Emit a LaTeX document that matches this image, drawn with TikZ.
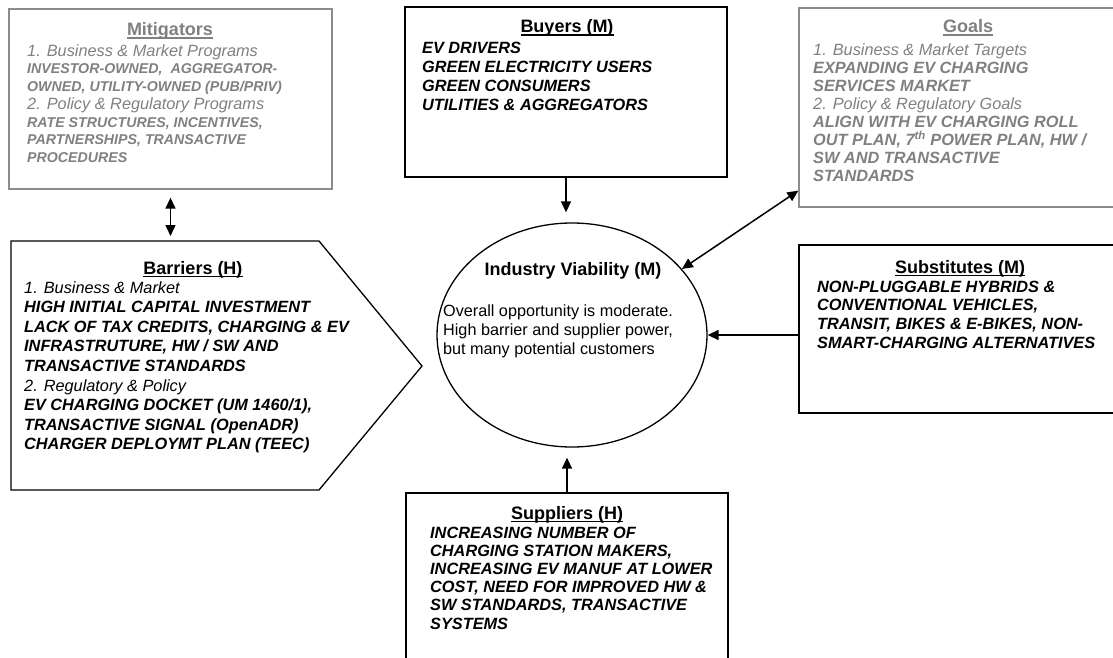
\documentclass[tikz,border=0pt]{standalone}
\usepackage{fontspec}
\setmainfont{Liberation Sans}
\usetikzlibrary{arrows.meta,shapes.geometric,calc}
\definecolor{softgray}{RGB}{128,128,128}
\definecolor{framegray}{RGB}{140,140,140}
% heading underline at a fixed depth below the baseline
\newcommand\ulhead[1]{\setbox0=\hbox{#1}\rlap{\rule[-2.6pt]{\wd0}{1.1pt}}\box0}
\begin{document}
\begin{tikzpicture}[x=1pt,y=-1pt,
  panel/.style={draw, line width=1.3pt, rectangle, inner sep=0pt},
  greypanel/.style={panel, draw=framegray},
  head/.style={font=\fontsize{18}{20}\selectfont\bfseries, anchor=base, inner sep=0pt},
  % multi-line blocks are placed by the baseline of their last line
  body/.style={align=left, anchor=base west, inner sep=0pt,
    font=\fontsize{16.3}{#1}\selectfont\bfseries\itshape},
  body/.default=18.5,
  link/.style={line width=1.5pt, -{Triangle[length=11pt,width=10pt]}},
  twolink/.style={line width=1.5pt, {Triangle[length=11pt,width=10pt]}-{Triangle[length=11pt,width=10pt]}},
]
\useasboundingbox (0,0) rectangle (1113,658);
\clip (0,0) rectangle (1113,658);

% frames
\node[greypanel, minimum width=323pt, minimum height=180pt] (mit) at (170.5,99) {};
\node[panel, minimum width=322pt, minimum height=170pt] (buy) at (566,92) {};
\node[greypanel, minimum width=330pt, minimum height=199pt] (goal) at (964,107.5) {};
\node[panel, minimum width=330pt, minimum height=168pt] (subs) at (964,329) {};
\node[panel, minimum width=322pt, minimum height=187pt] (supp) at (567,586.5) {};
\node[draw, line width=1.3pt, ellipse, minimum width=270pt, minimum height=224pt, inner sep=0pt] (iv) at (572,335) {};

% barriers: arrow-shaped pentagon
\draw[line width=1.3pt] (11,241) -- (319,241) -- (422,366) -- (319,490) -- (11,490) -- cycle;
\coordinate (bartop) at (170.5,241);

% Mitigators
\node[head, softgray] (mit-h) at (170,36) {\ulhead{Mitigators}};
\node[body=17.8, softgray, font=\fontsize{14.2}{17.8}\selectfont\bfseries\itshape] (mit-t) at (27,162.8)
{{\mdseries\fontsize{16.3}{17.8}\selectfont 1. Business \& Market Programs}\\
INVESTOR-OWNED,\ \ AGGREGATOR-\\
OWNED, UTILITY-OWNED (PUB/PRIV)\\
{\mdseries\fontsize{16.3}{17.8}\selectfont 2. Policy \& Regulatory Programs}\\
RATE STRUCTURES, INCENTIVES,\\
PARTNERSHIPS, TRANSACTIVE\\
PROCEDURES};

% Buyers
\node[head] (buy-h) at (567,33) {\ulhead{Buyers (M)}};
\node[body=18.7] (buy-t) at (422,110.1) {EV DRIVERS\\
GREEN ELECTRICITY USERS\\
GREEN CONSUMERS\\
UTILITIES \& AGGREGATORS};

% Goals
\node[head, softgray] (goal-h) at (968,33) {\ulhead{Goals}};
\node[body=18.1, softgray] (goal-t) at (813,181.7) {{\mdseries 1. Business \& Market Targets}\\
EXPANDING EV CHARGING\\
SERVICES MARKET\\
{\mdseries 2. Policy \& Regulatory Goals}\\
ALIGN WITH EV CHARGING ROLL\\
OUT PLAN, 7\textsuperscript{th} POWER PLAN, HW /\\
SW AND TRANSACTIVE\\
STANDARDS};

% Barriers
\node[head] (bar-h) at (193,274) {\ulhead{Barriers (H)}};
\node[body=19.6] (bar-t) at (24,449.8) {{\mdseries 1. Business \& Market}\\
HIGH INITIAL CAPITAL INVESTMENT\\
LACK OF TAX CREDITS, CHARGING \& EV\\
INFRASTRUTURE, HW / SW AND\\
TRANSACTIVE STANDARDS\\
{\mdseries 2. Regulatory \& Policy}\\
EV CHARGING DOCKET (UM 1460/1),\\
TRANSACTIVE SIGNAL (OpenADR)\\
CHARGER DEPLOYMT PLAN (TEEC)};

% Substitutes
\node[head] (subs-h) at (960,273) {\ulhead{Substitutes (M)}};
\node[body=18.7] (subs-t) at (817,348.1) {NON-PLUGGABLE HYBRIDS \&\\
CONVENTIONAL VEHICLES,\\
TRANSIT, BIKES \& E-BIKES, NON-\\
SMART-CHARGING ALTERNATIVES};

% Suppliers
\node[head] (supp-h) at (567,519) {\ulhead{Suppliers (H)}};
\node[body=18.2] (supp-t) at (430,629) {INCREASING NUMBER OF\\
CHARGING STATION MAKERS,\\
INCREASING EV MANUF AT LOWER\\
COST, NEED FOR IMPROVED HW \&\\
SW STANDARDS, TRANSACTIVE\\
SYSTEMS};

% Industry viability
\node[head] (iv-h) at (573,275) {Industry Viability (M)};
\node[align=left, anchor=base west, inner sep=0pt, font=\fontsize{16.2}{19}\selectfont] (iv-t) at (443,354) {Overall opportunity is moderate.\\
High barrier and supplier power,\\
but many potential customers};

% connectors
\draw[twolink, shorten <=8pt, shorten >=5pt] (mit.south) -- (bartop);
\draw[link, shorten >=10pt] (buy.south) -- (buy.south |- iv.north);
\draw[link, shorten >=10pt] (supp.north) -- (supp.north |- iv.south);
\draw[link] (subs.west |- iv.east) -- (iv.east);
\draw[twolink] ($(goal.south west)+(0,-17)$) -- (iv.31);
\end{tikzpicture}
\end{document}
